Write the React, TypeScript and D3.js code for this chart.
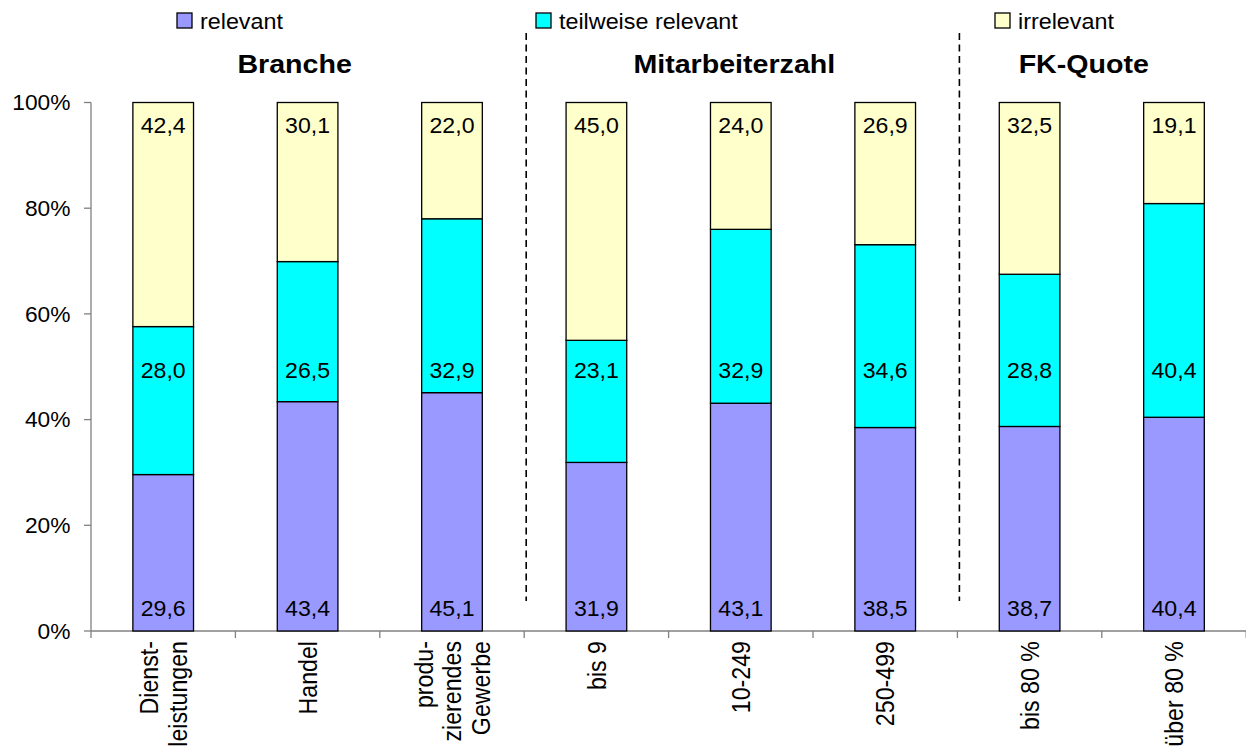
import React from "react";
import * as d3 from "d3";

const categories = ["Dienst-|leistungen", "Handel", "produ-|zierendes|Gewerbe", "bis 9", "10-249", "250-499", "bis 80 %", "über 80 %"];
const relevant = [29.6, 43.4, 45.1, 31.9, 43.1, 38.5, 38.7, 40.4];
const teilweise = [28.0, 26.5, 32.9, 23.1, 32.9, 34.6, 28.8, 40.4];
const irrelevant = [42.4, 30.1, 22.0, 45.0, 24.0, 26.9, 32.5, 19.1];
const seriesNames = ["relevant", "teilweise relevant", "irrelevant"];
const seriesColors = ["#9999FF", "#00FFFF", "#FFFFCC"];
const groupTitles = ["Branche", "Mitarbeiterzahl", "FK-Quote"];
const yTicks = [0, 20, 40, 60, 80, 100];

const W = 1246, H = 754;
const SX = 1.07;
const FONT = "Arial, 'Liberation Sans', sans-serif";

export default function App() {
  const x = d3.scaleBand<number>().domain(d3.range(categories.length)).range([91, 91 + 8 * 144.4]).paddingInner(0.58).paddingOuter(0.29);
  const y = d3.scaleLinear().domain([0, 100]).range([631, 102.5]);
  const table = categories.map((c, i) => ({ i, relevant: relevant[i], teilweise: teilweise[i], irrelevant: irrelevant[i] }));
  const stack = d3.stack<any>().keys(["relevant", "teilweise", "irrelevant"]).offset(d3.stackOffsetExpand);
  const layers = stack(table);
  const fmt = (v: number) => d3.format(".1f")(v).replace(".", ",");
  const step = x.step();
  const left = x.range()[0];
  const labelY = [y(0) - 15, 378, y(100) + 30];
  const legendX = [177, 536, 995];
  const titleX = [left + 1.41 * step, left + 4.455 * step, left + 6.875 * step];
  const sepX = [left + 3 * step + 2, left + 6 * step + 2];

  return (
    <svg width={W} height={H} style={{ position: "absolute", left: 0, top: 0, background: "#fff" }} fontFamily={FONT}>
      {/* legend */}
      {seriesNames.map((n, k) => (
        <g key={n}>
          <rect x={legendX[k]} y={13} width={15} height={15} fill={seriesColors[k]} stroke="#000" strokeWidth={1.3} />
          <text transform={`translate(${legendX[k] + 23},29) scale(${SX},1)`} fontSize={21.8} fill="#000">{n}</text>
        </g>
      ))}
      {/* group titles */}
      {groupTitles.map((t, k) => (
        <text key={t} transform={`translate(${titleX[k]},73) scale(1.1,1)`} fontSize={26} fontWeight="bold" textAnchor="middle">{t}</text>
      ))}
      {/* separators */}
      {sepX.map((sx, k) => (
        <line key={k} x1={sx} x2={sx} y1={33} y2={601} stroke="#000" strokeWidth={1.6} strokeDasharray="7,4.5" />
      ))}
      {/* axes */}
      <line x1={91} x2={91} y1={y(100)} y2={y(0)} stroke="#808080" strokeWidth={1.3} />
      <line x1={91} x2={W} y1={y(0)} y2={y(0)} stroke="#808080" strokeWidth={1.3} />
      {yTicks.map((t) => (
        <g key={t}>
          <line x1={84} x2={91} y1={y(t)} y2={y(t)} stroke="#808080" strokeWidth={1.3} />
          <text transform={`translate(70.5,${y(t)}) scale(${SX},1)`} dy="0.36em" textAnchor="end" fontSize={21.3}>{t}%</text>
        </g>
      ))}
      {d3.range(categories.length + 1).map((k) => (
        <line key={k} x1={left + k * step} x2={left + k * step} y1={y(0)} y2={y(0) + 7} stroke="#808080" strokeWidth={1.3} />
      ))}
      {/* bars */}
      {layers.map((layer, k) => (
        <g key={k}>
          {layer.map((d, i) => (
            <rect key={i} x={x(i)} width={x.bandwidth()} y={y(d[1] * 100)} height={y(d[0] * 100) - y(d[1] * 100)} fill={seriesColors[k]} stroke="#000" strokeWidth={1.3} />
          ))}
        </g>
      ))}
      {/* value labels */}
      {[relevant, teilweise, irrelevant].map((vals, k) => (
        <g key={k}>
          {vals.map((v, i) => (
            <text key={i} transform={`translate(${x(i)! + x.bandwidth() / 2},${labelY[k]}) scale(${SX},1)`} textAnchor="middle" fontSize={21.6}>{fmt(v)}</text>
          ))}
        </g>
      ))}
      {/* category labels */}
      {categories.map((c, i) => {
        const lines = c.split("|");
        const cx = x(i)! + x.bandwidth() / 2;
        return lines.map((ln, j) => {
          const off = (j - (lines.length - 1) / 2) * 28.5;
          return (
            <text key={i + "-" + j} transform={`translate(${cx + off},641) scale(1.13,1) rotate(-90)`} dy="0.35em" textAnchor="end" fontSize={23.2}>{ln}</text>
          );
        });
      })}
    </svg>
  );
}
